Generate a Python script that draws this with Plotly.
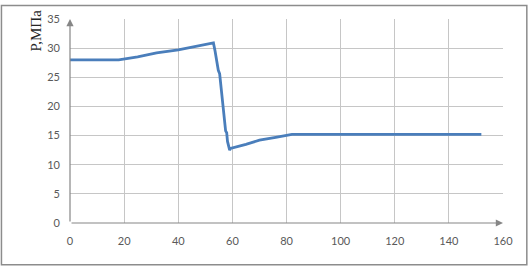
import plotly.graph_objects as go

x_vals = [0, 18, 25, 32, 40, 47, 53, 53.6, 54.8, 55.3, 56.5, 57.5, 57.9, 58.2, 59.0, 59.3, 65, 70, 76, 82, 152]
p_vals = [28, 28, 28.5, 29.2, 29.7, 30.3, 30.9, 29.5, 26.2, 25.6, 20.2, 15.8, 15.5, 14.0, 12.5, 12.8, 13.5, 14.2, 14.7, 15.2, 15.2]

x_ticks = [0, 20, 40, 60, 80, 100, 120, 140, 160]
y_ticks = [0, 5, 10, 15, 20, 25, 30, 35]
y_title = "P,МПа"

W, H = 528, 267
L, R, T, B = 70, 25.3, 15.3, 44
pw, ph = W - L - R, H - T - B

fig = go.Figure()
fig.add_trace(go.Scatter(x=x_vals, y=p_vals, mode="lines",
                         line=dict(color="#4a7ebb", width=2.8), showlegend=False))

tickfont = dict(family="Lato, Open Sans, sans-serif", size=11, color="#595959")
fig.update_layout(
    width=W, height=H,
    margin=dict(l=L, r=R, t=T, b=B),
    paper_bgcolor="white", plot_bgcolor="white",
    xaxis=dict(range=[0, 160], tickvals=x_ticks, showgrid=True, gridcolor="#c6c6c6", gridwidth=1,
               zeroline=False, showline=False, tickfont=tickfont, ticks="", ticklabelstandoff=10),
    yaxis=dict(range=[0, 35], tickvals=y_ticks, showgrid=True, gridcolor="#c6c6c6", gridwidth=1,
               zeroline=False, showline=False, tickfont=tickfont, ticks="", ticklabelstandoff=9),
)

# axes with arrows
fig.add_annotation(x=160, y=0, xref="x", yref="y", ax=0, ay=0, axref="x", ayref="y",
                   showarrow=True, arrowhead=2, arrowsize=1.2, arrowwidth=1.2, arrowcolor="#868686", text="")
fig.add_annotation(x=0, y=35, xref="x", yref="y", ax=0, ay=0, axref="x", ayref="y",
                   showarrow=True, arrowhead=2, arrowsize=1.2, arrowwidth=1.2, arrowcolor="#868686", text="")

# y title
fig.add_annotation(x=(37 - L) / pw, y=(H - B - 27) / ph, xref="paper", yref="paper", text=y_title,
                   textangle=-90, showarrow=False, xanchor="center", yanchor="middle",
                   font=dict(family="Liberation Serif, Times New Roman, serif", size=15, color="#262626"))

# outer frame
fig.add_shape(type="rect", xref="paper", yref="paper",
              x0=(1.5 - L) / pw, x1=(W - 1.5 - L) / pw,
              y0=(H - B - (H - 1.5)) / ph, y1=(H - B - 1.5) / ph,
              line=dict(color="#8c8c8c", width=1.5), layer="below")

fig.write_html("out.html")
